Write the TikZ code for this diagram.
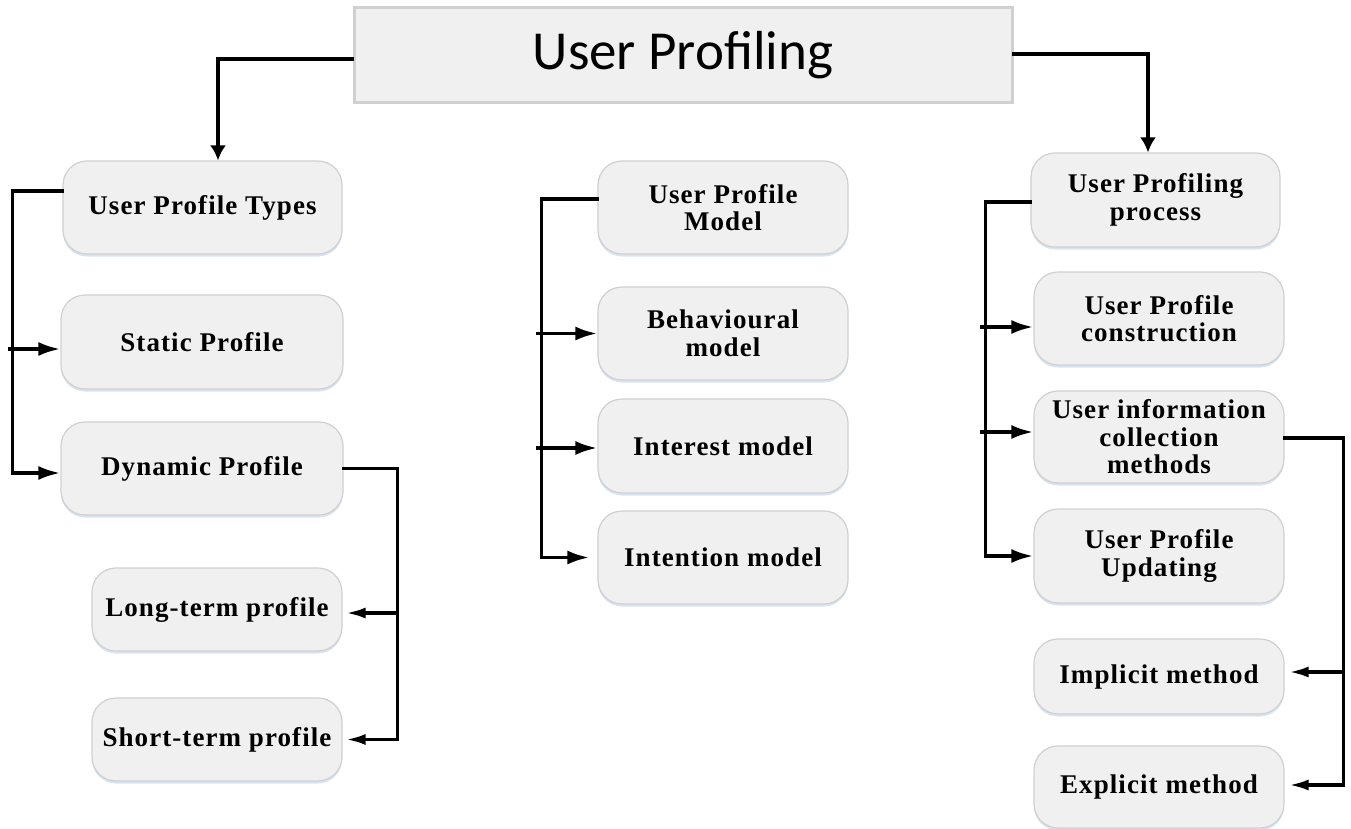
\documentclass[tikz,border=0pt]{standalone}
\usepackage{fontspec}
\setmainfont{Liberation Serif}
\newfontfamily\titlefont{Carlito}
\newfontfamily\boxfont[LetterSpace=4]{Liberation Serif}
\usepackage{tikz}
\usetikzlibrary{arrows.meta,calc,positioning,shadows}
\definecolor{boxfill}{RGB}{240,240,240}
\definecolor{boxline}{RGB}{208,208,208}
\definecolor{shade}{RGB}{190,210,235}
\tikzset{
  pbox/.style={draw=boxline,line width=1.2pt,fill=boxfill,rounded corners=24pt,align=center,
    font=\boxfont\bfseries\fontsize{27}{27.5}\selectfont,inner sep=0pt,
    drop shadow={shadow xshift=0pt,shadow yshift=-2.5pt,fill=shade,opacity=0.6}},
  headbox/.style={draw=boxline,line width=3pt,fill=boxfill,minimum width=658pt,minimum height=95pt,
    font=\titlefont\fontsize{55}{60}\selectfont},
  link/.style={line width=3.6pt,line cap=rect},
  arr/.style={link,-{Latex[length=22pt,width=14pt]}},
  backarr/.style={link,-{Latex[length=20pt,width=11pt]}},
  downarr/.style={link,-{Latex[length=15pt,width=16pt]}}
}
\begin{document}
\begin{tikzpicture}[x=1pt,y=-1pt]
\useasboundingbox (0,0) rectangle (1351,829);
\node[headbox] (title) at (683,55.5) {User Profiling};
% left column
\node[pbox,minimum width=279pt,minimum height=93pt] (types) at (202.5,207.5) {User Profile Types};
\node[pbox,minimum width=282pt,minimum height=94pt] (static) at (202,342) {Static Profile};
\node[pbox,minimum width=282pt,minimum height=93pt] (dynamic) at (202,468.5) {Dynamic Profile};
\node[pbox,minimum width=250pt,minimum height=83pt] (longterm) at (217,609.5) {Long-term profile};
\node[pbox,minimum width=250pt,minimum height=83pt] (shortterm) at (217,739.5) {Short-term profile};
% middle column
\node[pbox,minimum width=250pt,minimum height=93pt] (model) at (723,207.5) {User Profile\\Model};
\node[pbox,minimum width=250pt,minimum height=93pt] (behav) at (723,333.5) {Behavioural\\model};
\node[pbox,minimum width=250pt,minimum height=94pt] (interest) at (723,446) {Interest model};
\node[pbox,minimum width=250pt,minimum height=93pt] (intention) at (723,557.5) {Intention model};
% right column
\node[pbox,minimum width=249pt,minimum height=94pt] (process) at (1155.5,200) {User Profiling\\process};
\node[pbox,minimum width=250pt,minimum height=93pt] (construct) at (1159,318.5) {User Profile\\construction};
\node[pbox,minimum width=250pt,minimum height=92pt] (collect) at (1159,437) {User information\\collection\\methods};
\node[pbox,minimum width=250pt,minimum height=94pt] (update) at (1159,556) {User Profile\\Updating};
\node[pbox,minimum width=250pt,minimum height=75pt] (implicit) at (1159,676.5) {Implicit method};
\node[pbox,minimum width=250pt,minimum height=82pt] (explicit) at (1159,787) {Explicit method};

\draw[downarr] ([yshift=-3.5pt]title.west) -| ([xshift=15.5pt]types.north);
\draw[downarr] ([yshift=1.5pt]title.east) -| ([xshift=-7.5pt]process.north);

\draw[arr] ([yshift=16.5pt]types.west) -- ++(-50,0) coordinate (lbus) |- ([yshift=-4.5pt]dynamic.west);
\draw[arr] ([xshift=-3pt,yshift=-7pt]lbus |- static.west) -- ([yshift=-7pt]static.west);
\draw[backarr] (dynamic.east) -- ++(54,0) coordinate (dbus) |- ([xshift=3pt]shortterm.east);
\draw[backarr] ([yshift=-3.5pt]dbus |- longterm.east) -- ([xshift=3pt,yshift=-3.5pt]longterm.east);

\draw[arr] ([yshift=8.5pt]model.west) -- ++(-56,0) coordinate (mbus) |- ([xshift=-8pt]intention.west);
\draw[arr] ([xshift=-4pt]mbus |- behav.west) -- (behav.west);
\draw[arr] ([xshift=-4pt,yshift=-2pt]mbus |- interest.west) -- ([yshift=-2pt]interest.west);

\draw[arr] ([yshift=-2pt]process.west) -- ++(-45,0) coordinate (pbus) |- (update.west);
\draw[arr] ([xshift=-4pt,yshift=-8.5pt]pbus |- construct.west) -- ([yshift=-8.5pt]construct.west);
\draw[arr] ([xshift=-4pt,yshift=5pt]pbus |- collect.west) -- ([yshift=5pt]collect.west);
\draw[backarr] ([yshift=-1pt]collect.east) -- ++(59,0) coordinate (cbus) |- ([xshift=4pt,yshift=2pt]explicit.east);
\draw[backarr] ([yshift=4.5pt]cbus |- implicit.east) -- ([xshift=4pt,yshift=4.5pt]implicit.east);
\end{tikzpicture}
\end{document}
